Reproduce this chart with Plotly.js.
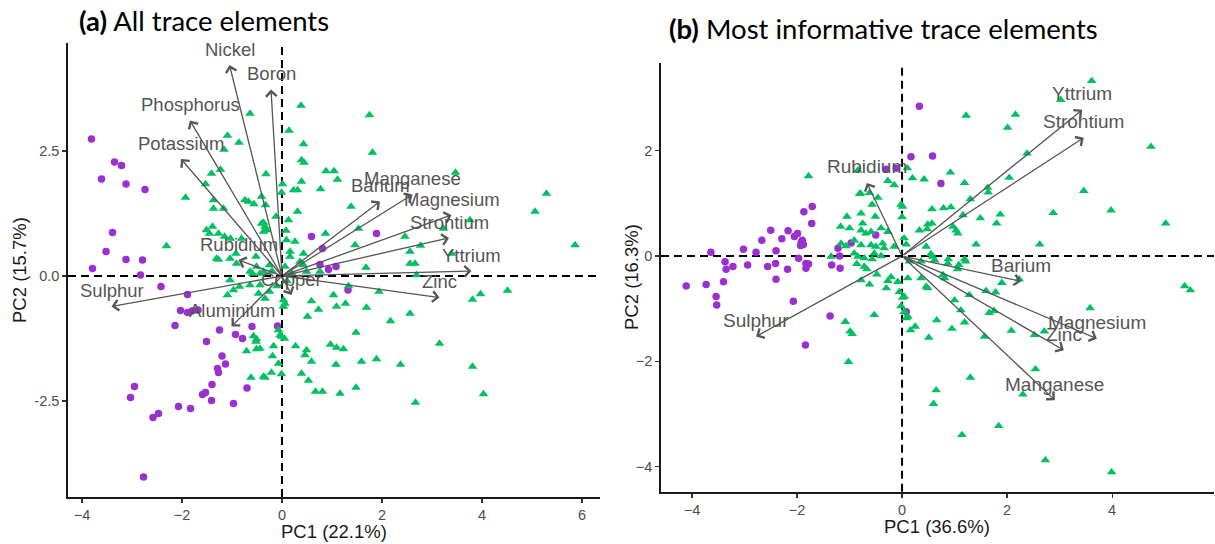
<!DOCTYPE html>
<html>
<head>
<meta charset="utf-8">
<script src="https://cdn.plot.ly/plotly-3.0.1.min.js"></script>
<style>
  html, body { margin: 0; padding: 0; background: #ffffff; }
  #chart { width: 1215px; height: 544px; }
</style>
</head>
<body>
<div id="chart"></div>
<script>
// ---------- Panel (a): all trace elements ----------
const aGroup1X = [-3.81,-3.35,-3.21,-3.61,-3.12,-2.74,-3.39,-3.52,-3.12,-2.79,-3.79,-2.83,0.59,1.89,0.81,0.76,0.93,1.08,1.32,
  -2.42,-1.89,-2.03,-1.89,-1.68,-1.80,-2.14,-1.25,-0.93,-0.79,-0.60,-0.09,-1.51,-1.20,-1.13,-1.29,-1.27,-1.40,-0.70,
  -2.95,-3.03,-1.59,-1.53,-1.41,-0.97,-2.07,-1.83,-2.47,-2.58,-2.77];
const aGroup1Y = [2.74,2.28,2.21,1.94,1.84,1.73,0.87,0.49,0.33,0.32,0.15,0.02,0.79,0.85,0.55,0.23,0.13,0.19,-0.28,
  -0.21,-0.37,-0.69,-0.73,-0.68,-0.70,-0.99,-1.08,-1.17,-1.25,-1.01,-1.00,-1.31,-1.60,-1.76,-1.85,-1.93,-2.17,-2.24,
  -2.21,-2.43,-2.37,-2.33,-2.49,-2.55,-2.61,-2.65,-2.75,-2.83,-4.02];

const aGroup2X = [-0.64,-1.09,-0.86,0.38,0.14,0.43,0.39,0.44,0.39,-1.41,-1.23,-0.32,-1.16,-1.53,-1.93,-1.37,-0.74,-0.67,-0.56,-0.41,
  -0.33,-1.37,-1.17,-0.01,0.01,0.23,0.31,0.31,-0.12,0.13,-0.37,-0.41,-0.34,-1.51,-1.39,-1.45,-1.27,-1.15,-1.03,-0.81,
  -0.37,-0.31,0.08,0.09,0.26,-2.31,-1.31,-1.04,-0.92,-0.52,-0.91,-0.51,-0.25,0.16,0.43,0.36,-1.27,0.16,0.06,-0.64,
  -0.44,0.43,0.49,0.76,-0.59,-0.37,1.75,1.81,0.88,1.04,1.11,0.77,3.47,5.29,5.06,5.86,1.38,1.53,1.46,0.87,
  2.46,2.77,2.56,3.23,3.76,3.39,2.56,2.66,1.68,2.69,1.94,1.03,0.59,1.27,1.09,0.73,1.69,0.51,2.17,2.56,
  3.81,3.97,4.51,1.48,3.15,0.97,1.09,1.23,0.49,0.46,0.59,1.08,1.59,1.89,2.37,3.81,0.39,0.53,0.67,0.81,
  1.16,1.48,2.67,4.03,1.33,-1.04,-1.09,-0.97,-0.64,-0.47,-0.34,0.03,0.06,0.03,-0.04,0.05,-0.57,-0.52,-0.71,-0.51,
  -0.44,-0.17,-0.19,-0.07,0.27,-0.62,-0.34,-0.21,-0.01,-0.37,-0.51,-0.07,-0.01,-0.85,-0.44,-0.25,-0.20,0.10,-0.10,0.20];
const aGroup2Y = [3.25,2.81,2.67,3.41,2.91,2.64,2.32,2.27,1.89,2.05,2.13,2.04,2.53,1.84,1.57,1.52,1.52,1.49,1.44,1.59,
  1.42,1.35,1.35,1.67,1.84,1.72,1.72,1.29,1.19,1.12,1.07,1.05,0.99,0.92,0.99,0.85,0.85,0.79,0.75,0.75,
  0.89,0.92,0.91,0.72,0.69,0.60,0.35,0.35,0.45,0.39,0.25,0.19,0.22,0.39,0.45,0.29,0.33,0.49,0.19,0.09,
  0.05,0.22,0.09,0.09,0.05,0.09,3.22,2.47,2.10,2.10,1.93,1.74,2.07,1.65,1.29,0.62,1.39,0.95,0.62,0.85,
  0.79,0.61,0.49,0.95,1.12,0.45,0.25,0.25,0.17,0.02,-0.31,-0.38,-0.50,-0.55,-0.61,-0.67,-0.63,-0.81,-0.90,-0.75,
  -0.47,-0.36,-0.29,-1.13,-1.35,-1.37,-1.43,-1.46,-1.48,-1.58,-1.71,-1.77,-1.71,-1.66,-1.77,-1.81,-1.95,-2.09,-2.31,-2.31,
  -2.35,-2.23,-2.53,-2.36,-0.20,-0.08,-0.38,-0.28,-0.18,-0.35,-0.45,-0.48,-0.55,-0.61,-1.18,-1.25,-1.20,-1.31,-1.50,-1.46,
  -1.45,-1.40,-1.60,-1.75,-1.40,-2.03,-2.03,-1.93,-1.96,-2.01,-1.26,-1.08,-1.21,-0.21,-0.18,-0.31,0.10,-0.10,-0.20,0.05];

const aVarNames = ['Nickel','Boron','Phosphorus','Potassium','Rubidium','Sulphur','Aluminium','Copper',
  'Zinc','Yttrium','Strontium','Magnesium','Barium','Manganese'];
const aVarX = [-1.05,-0.22,-1.84,-2.02,-0.87,-3.41,-1.01,0.19,3.15,3.79,3.34,3.39,1.96,2.61];
const aVarY = [4.22,3.73,3.11,2.34,0.32,-0.61,-1.01,-0.38,-0.43,0.10,0.76,1.22,1.49,1.63];

// ---------- Panel (b): most informative trace elements ----------
const bGroup1X = [0.33,0.17,-0.30,-0.11,0.58,0.74,-1.87,-1.71,-1.72,-2.50,-2.17,-2.67,-2.29,-2.05,-1.99,-1.92,-1.90,-1.88,-1.93,
  -3.02,-2.78,-3.64,-2.40,-0.97,-0.50,-1.22,-1.19,-3.37,-3.35,-3.22,-2.94,-2.56,-2.41,-2.18,-1.97,-1.83,-1.78,-1.83,
  -1.34,-1.18,-4.11,-3.73,-3.40,-3.54,-3.53,-2.40,-2.07,-1.37,-1.84,0.08];
const bGroup1Y = [2.85,1.89,1.65,1.67,1.90,1.38,0.84,0.94,0.62,0.49,0.48,0.30,0.33,0.37,0.43,0.26,0.30,0.22,0.20,
  0.13,0.07,0.07,0.10,0.25,0.40,0.15,0.00,-0.11,-0.25,-0.20,-0.17,-0.20,-0.14,-0.25,-0.04,-0.14,-0.15,-0.23,
  -0.17,-0.23,-0.57,-0.54,-0.49,-0.77,-0.93,-0.44,-0.86,-1.14,-1.69,-1.06];

const bGroup2X = [3.61,3.02,1.22,2.16,2.01,4.74,2.38,0.92,1.19,0.20,0.42,0.10,2.04,1.63,1.64,3.46,1.30,0.57,0.79,0.93,
  1.16,1.49,1.87,1.80,2.88,3.98,5.02,0.33,0.48,0.57,0.97,1.03,1.06,0.04,0.08,0.46,1.41,2.62,0.58,0.62,
  1.19,0.14,0.01,1.06,0.87,1.21,0.36,0.46,0.49,0.11,0.78,0.81,1.90,2.23,1.60,1.78,1.28,1.00,0.04,0.08,
  0.11,1.12,1.66,1.75,3.58,5.38,5.49,0.66,1.19,0.95,0.16,0.25,0.51,1.57,2.08,2.52,2.71,2.54,1.30,0.65,
  0.60,2.30,1.84,1.14,2.73,3.99,-0.78,-0.62,-0.48,-0.86,-0.72,-0.67,-0.57,-0.30,-0.27,-0.21,-0.08,-0.05,0.01,-0.02,
  0.04,-0.53,-1.08,-0.99,-0.95,-1.02,0.88,1.08,0.55,0.36,-1.78,-0.27,-0.15,-0.81,-0.57,-0.46,-0.02,-1.05,-0.75,-0.51,
  -1.17,-1.00,-0.78,-0.69,-0.59,-0.40,-0.27,0.00,0.49,-1.16,-1.07,-0.91,-0.78,-0.59,-0.50,-0.37,-0.34,-0.15,-1.35,-0.84,
  -0.72,-0.53,-0.40,-0.84,-0.79,-0.62,-0.78,-0.91];
const bGroup2Y = [3.33,2.97,2.67,2.69,2.44,2.08,1.95,1.59,1.39,1.48,1.46,1.67,1.49,1.30,1.21,1.24,1.08,0.89,0.91,0.93,
  0.78,0.72,0.79,0.62,0.82,0.87,0.62,0.49,0.51,0.62,0.56,0.49,0.43,0.34,0.22,0.18,0.22,0.22,-0.01,-0.08,
  -0.06,-0.10,0.94,-0.25,-0.14,-0.10,-0.42,-0.58,-0.61,-0.42,-0.36,-0.42,-0.51,-0.44,-0.66,-0.69,-0.74,-0.84,-0.77,-1.18,
  -1.15,-1.03,-1.08,-1.04,-0.99,-0.57,-0.65,-1.22,-1.26,-1.38,-1.41,-1.34,-1.55,-1.53,-1.42,-1.50,-1.43,-2.15,-2.31,-2.55,
  -2.81,-2.63,-3.23,-3.40,-3.88,-4.11,-0.46,-0.54,-0.35,-0.15,-0.20,-0.25,-0.06,-0.61,-0.47,-0.40,-0.49,-0.68,-0.79,-0.95,
  -1.06,-1.12,-1.25,-1.43,-1.48,-2.01,-0.06,-0.17,0.04,-0.10,1.52,1.43,1.35,1.18,0.98,1.11,0.98,0.75,0.62,0.75,
  0.56,0.53,0.49,0.43,0.46,0.53,0.46,0.74,0.60,0.24,0.19,0.30,0.21,0.21,0.18,0.24,0.15,0.18,-0.01,-0.01,
  -0.04,0.05,0.00,1.63,1.19,1.20,0.81,0.05];

const bVarNames = ['Rubidium','Yttrium','Strontium','Barium','Magnesium','Zinc','Manganese','Sulphur'];
const bVarX = [-0.67,3.43,3.46,2.27,3.71,3.08,2.91,-2.78];
const bVarY = [1.39,2.78,2.25,-0.48,-1.57,-1.79,-2.74,-1.53];

// ---------- styling ----------
const PURPLE = '#9b30d0';
const GREEN = '#00c060';
const ARROW = '#555555';
const BASE_FONT = 'Liberation Sans, Arial, sans-serif';
const TITLE_FONT = 'Lato, Open Sans, sans-serif';

const traces = [
  { x: aGroup1X, y: aGroup1Y, xaxis: 'x', yaxis: 'y', type: 'scatter', mode: 'markers',
    marker: { symbol: 'circle', size: 7.5, color: PURPLE }, hoverinfo: 'skip' },
  { x: aGroup2X, y: aGroup2Y, xaxis: 'x', yaxis: 'y', type: 'scatter', mode: 'markers',
    marker: { symbol: 'triangle-up', size: 8.5, color: GREEN }, hoverinfo: 'skip' },
  { x: bGroup1X, y: bGroup1Y, xaxis: 'x2', yaxis: 'y2', type: 'scatter', mode: 'markers',
    marker: { symbol: 'circle', size: 7.5, color: PURPLE }, hoverinfo: 'skip' },
  { x: bGroup2X, y: bGroup2Y, xaxis: 'x2', yaxis: 'y2', type: 'scatter', mode: 'markers',
    marker: { symbol: 'triangle-up', size: 8.5, color: GREEN }, hoverinfo: 'skip' }
];

function loadingAnnotations(names, xs, ys, xr, yr, fontSize) {
  const out = [];
  names.forEach((name, i) => {
    // arrow from the origin to the variable's loading
    out.push({
      xref: xr, yref: yr, axref: xr, ayref: yr,
      x: xs[i], y: ys[i], ax: 0, ay: 0,
      text: '', showarrow: true, arrowhead: 4, arrowsize: 1.6,
      arrowwidth: 1.3, arrowcolor: ARROW, standoff: 0, startstandoff: 0
    });
    // variable name just above the arrow tip
    out.push({
      xref: xr, yref: yr, x: xs[i], y: ys[i], yshift: 16,
      text: name, showarrow: false, xanchor: 'center', yanchor: 'middle',
      font: { family: BASE_FONT, size: fontSize, color: ARROW }
    });
  });
  return out;
}

const annotations = []
  .concat(loadingAnnotations(aVarNames, aVarX, aVarY, 'x', 'y', 18.5))
  .concat(loadingAnnotations(bVarNames, bVarX, bVarY, 'x2', 'y2', 19))
  .concat([
    { xref: 'paper', yref: 'paper', x: 77 / 1215, y: 1 - 21 / 544, xanchor: 'left', yanchor: 'middle',
      text: '<b>(a)</b> All trace elements', showarrow: false,
      font: { family: TITLE_FONT, size: 27.5, color: '#000000' } },
    { xref: 'paper', yref: 'paper', x: 667 / 1215, y: 1 - 28 / 544, xanchor: 'left', yanchor: 'middle',
      text: '<b>(b)</b> Most informative trace elements', showarrow: false,
      font: { family: TITLE_FONT, size: 27.5, color: '#000000' } },
    { xref: 'paper', yref: 'paper', x: 334 / 1215, y: 1 - 531 / 544, xanchor: 'center', yanchor: 'middle',
      text: 'PC1 (22.1%)', showarrow: false, font: { family: BASE_FONT, size: 18.5, color: '#1a1a1a' } },
    { xref: 'paper', yref: 'paper', x: 937 / 1215, y: 1 - 526 / 544, xanchor: 'center', yanchor: 'middle',
      text: 'PC1 (36.6%)', showarrow: false, font: { family: BASE_FONT, size: 18.5, color: '#1a1a1a' } },
    { xref: 'paper', yref: 'paper', x: 19 / 1215, y: 1 - 270 / 544, xanchor: 'center', yanchor: 'middle',
      text: 'PC2 (15.7%)', textangle: -90, showarrow: false, font: { family: BASE_FONT, size: 18.5, color: '#1a1a1a' } },
    { xref: 'paper', yref: 'paper', x: 631 / 1215, y: 1 - 277 / 544, xanchor: 'center', yanchor: 'middle',
      text: 'PC2 (16.3%)', textangle: -90, showarrow: false, font: { family: BASE_FONT, size: 18.5, color: '#1a1a1a' } }
  ]);

function refLines(xr, yr) {
  const dash = { color: '#000000', width: 2, dash: '8px,5px' };
  return [
    { type: 'line', layer: 'below', xref: xr, yref: yr + ' domain', x0: 0, x1: 0, y0: 0, y1: 1, line: dash },
    { type: 'line', layer: 'below', xref: xr + ' domain', yref: yr, x0: 0, x1: 1, y0: 0, y1: 0, line: dash }
  ];
}

function axisStyle(extra) {
  return Object.assign({
    showgrid: false, zeroline: false, showline: true, linecolor: '#1a1a1a', linewidth: 1.8,
    ticks: 'outside', ticklen: 4, tickwidth: 1.2, tickcolor: '#333333',
    tickfont: { family: BASE_FONT, size: 14.5, color: '#4d4d4d' }, fixedrange: true
  }, extra);
}

const layout = {
  width: 1215, height: 544,
  margin: { l: 0, r: 0, t: 0, b: 0 },
  paper_bgcolor: '#ffffff', plot_bgcolor: '#ffffff',
  showlegend: false,
  xaxis: axisStyle({ domain: [68 / 1215, 600 / 1215], range: [-4.28, 6.36], tickvals: [-4, -2, 0, 2, 4, 6], anchor: 'y' }),
  yaxis: axisStyle({ domain: [47 / 544, 501 / 544], range: [-4.42, 4.66], tickvals: [-2.5, 0, 2.5],
    ticktext: ['-2.5', '0.0', '2.5'], anchor: 'x' }),
  xaxis2: axisStyle({ domain: [661 / 1215, 1214 / 1215], range: [-4.59, 5.94], tickvals: [-4, -2, 0, 2, 4], anchor: 'y2' }),
  yaxis2: axisStyle({ domain: [52.3 / 544, 481 / 544], range: [-4.48, 3.67], tickvals: [-4, -2, 0, 2], anchor: 'x2' }),
  shapes: refLines('x', 'y').concat(refLines('x2', 'y2')),
  annotations: annotations
};

Plotly.newPlot('chart', traces, layout, { staticPlot: true, displayModeBar: false });
</script>
</body>
</html>
